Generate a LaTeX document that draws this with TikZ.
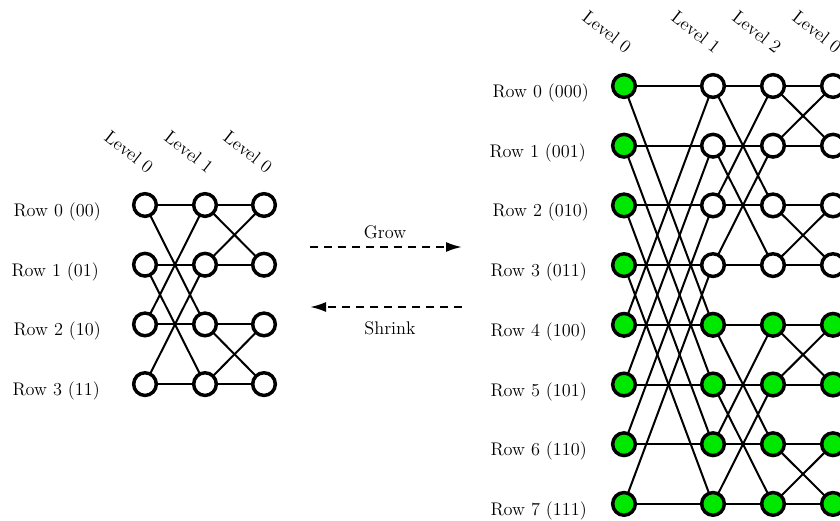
\documentclass[tikz,border=0pt]{standalone}
\usetikzlibrary{arrows.meta}
\definecolor{nodegreen}{RGB}{0,232,0}
\begin{document}
\begin{tikzpicture}[x=0.75pt,y=-0.75pt,
  every node/.style={font=\fontsize{13.7}{16}\selectfont},
  vtx/.style={circle,draw=black,line width=2.6pt,minimum size=17pt,inner sep=0pt,fill=white},
  gvtx/.style={vtx,fill=nodegreen},
  wire/.style={line width=1.5pt},
  lvl/.style={rotate=-38,inner sep=0pt},
  rowlab/.style={anchor=base east,inner sep=0pt},
  flow/.style={line width=1.5pt,dash pattern=on 6pt off 4.5pt,-{Latex[length=12pt,width=7.5pt]}}]
\useasboundingbox (0,0) rectangle (840,521);
\clip (0,0) rectangle (840,521);
% ---------- left network ----------
\foreach \c/\x in {0/145,1/205,2/264}{
  \foreach \r in {0,...,3}{
    \coordinate (L\c-\r) at (\x,{205+59.7*\r});
  }
}
\foreach \r/\s in {0/2,1/3,2/0,3/1}{
  \draw[wire] (L0-\r) -- (L1-\r);
  \draw[wire] (L0-\r) -- (L1-\s);
}
\foreach \r/\s in {0/1,1/0,2/3,3/2}{
  \draw[wire] (L1-\r) -- (L2-\r);
  \draw[wire] (L1-\r) -- (L2-\s);
}
\foreach \c in {0,1,2}{
  \foreach \r in {0,...,3}{
    \node[vtx] (l\c-\r) at (L\c-\r) {};
  }
}
\node[lvl] (ll0) at (129,152) {Level 0};
\node[lvl] (ll1) at (189,152) {Level 1};
\node[lvl] (ll2) at (248,152) {Level 0};
\node[rowlab] (lr0) at (101,{205+11.5}) {Row 0 (00)};
\node[rowlab] (lr1) at (99,{264.7+11.5}) {Row 1 (01)};
\node[rowlab] (lr2) at (101,{324.4+11.5}) {Row 2 (10)};
\node[rowlab] (lr3) at (100,{384.1+11.5}) {Row 3 (11)};
% ---------- arrows ----------
\coordinate (g1) at (310,247);
\coordinate (g2) at (462,247);
\coordinate (s1) at (462,307);
\coordinate (s2) at (310,307);
\draw[flow] (g1) -- (g2);
\draw[flow] (s1) -- (s2);
\node (grow) at (385,232) {Grow};
\node (shrink) at (390,328) {Shrink};
% ---------- right network ----------
\foreach \c/\x in {0/624,1/713,2/773,3/833}{
  \foreach \r in {0,...,7}{
    \coordinate (R\c-\r) at (\x,{86+59.7*\r});
  }
}
\foreach \r/\s in {0/4,1/5,2/6,3/7,4/0,5/1,6/2,7/3}{
  \draw[wire] (R0-\r) -- (R1-\r);
  \draw[wire] (R0-\r) -- (R1-\s);
}
\foreach \r/\s in {0/2,1/3,2/0,3/1,4/6,5/7,6/4,7/5}{
  \draw[wire] (R1-\r) -- (R2-\r);
  \draw[wire] (R1-\r) -- (R2-\s);
}
\foreach \r/\s in {0/1,1/0,2/3,3/2,4/5,5/4,6/7,7/6}{
  \draw[wire] (R2-\r) -- (R3-\r);
  \draw[wire] (R2-\r) -- (R3-\s);
}
\foreach \r in {0,...,7}{
  \node[gvtx] (r0-\r) at (R0-\r) {};
}
\foreach \c in {1,2,3}{
  \foreach \r in {0,...,3}{
    \node[vtx] (r\c-\r) at (R\c-\r) {};
  }
  \foreach \r in {4,...,7}{
    \node[gvtx] (r\c-\r) at (R\c-\r) {};
  }
}
\node[lvl] (rl0) at (607,32) {Level 0};
\node[lvl] (rl1) at (696,32) {Level 1};
\node[lvl] (rl2) at (757,32) {Level 2};
\node[lvl] (rl3) at (817,32) {Level 0};
\node[rowlab] (rr0) at (589,{86+11.5}) {Row 0 (000)};
\node[rowlab] (rr1) at (586,{145.7+11.5}) {Row 1 (001)};
\node[rowlab] (rr2) at (589,{205.4+11.5}) {Row 2 (010)};
\node[rowlab] (rr3) at (587,{265.1+11.5}) {Row 3 (011)};
\node[rowlab] (rr4) at (587,{324.8+11.5}) {Row 4 (100)};
\node[rowlab] (rr5) at (587,{384.5+11.5}) {Row 5 (101)};
\node[rowlab] (rr6) at (587,{444.2+11.5}) {Row 6 (110)};
\node[rowlab] (rr7) at (587,{503.9+11.5}) {Row 7 (111)};
\end{tikzpicture}
\end{document}
